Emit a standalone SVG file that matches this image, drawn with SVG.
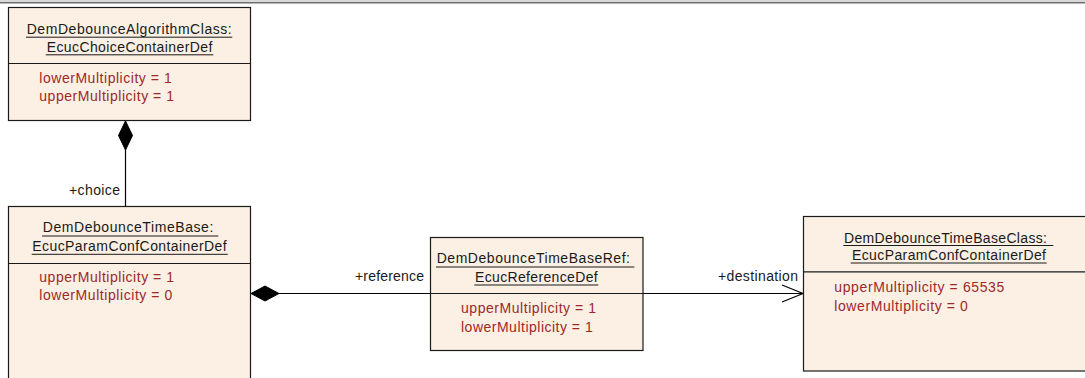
<svg xmlns="http://www.w3.org/2000/svg" width="1085" height="378" viewBox="0 0 1085 378">
<style>
.box{fill:#FBF0E3;stroke:#1a1a1a;stroke-width:1.2}
.div{stroke:#1a1a1a;stroke-width:1.2}
.ul{stroke:#1a1a1a;stroke-width:1}
.t{font-family:"Liberation Sans",Arial,sans-serif;font-size:14px;fill:#1a1a1a}
.a{font-family:"Liberation Sans",Arial,sans-serif;font-size:14px;fill:#A0282A}
.lbl{font-family:"Liberation Sans",Arial,sans-serif;font-size:14px;fill:#1a1a1a}
.conn{stroke:#000;stroke-width:1.2;fill:none}
.dia{fill:#000;stroke:#000;stroke-width:1}
</style>
<rect x="0" y="0" width="1085" height="2" fill="#d8d8d8"/>
<line x1="0" y1="2.8" x2="1085" y2="2.8" stroke="#6e6e6e" stroke-width="1.6"/>

<g id="connectors">
  <line class="conn" x1="125.5" y1="121" x2="125.5" y2="206"/>
  <polygon class="dia" points="125.5,121 132.5,135.5 125.5,150 118.5,135.5"/>
  <text class="lbl" x="120" y="195" text-anchor="end" textLength="51">+choice</text>
  <line class="conn" x1="251" y1="293.5" x2="803" y2="293.5"/>
  <polygon class="dia" points="251,293.5 265,286 279,293.5 265,301"/>
  <text class="lbl" x="355" y="281" textLength="69">+reference</text>
  <polyline class="conn" points="782,285 803,293.5 782,302"/>
  <text class="lbl" x="718" y="281" textLength="80">+destination</text>
</g>

<g id="DemDebounceAlgorithmClass">
  <rect class="box" x="8.5" y="7.5" width="242" height="113"/>
  <line class="div" x1="8.5" y1="63.5" x2="250.5" y2="63.5"/>
  <text class="t" x="26.7" y="34.3" textLength="205">DemDebounceAlgorithmClass:</text>
  <line class="ul" x1="26" y1="37.2" x2="232.3" y2="37.2"/>
  <text class="t" x="46.7" y="52.3" textLength="165.6">EcucChoiceContainerDef</text>
  <line class="ul" x1="45.7" y1="54.8" x2="213.3" y2="54.8"/>
  <text class="a" x="39.3" y="82.5" textLength="132.4">lowerMultiplicity = 1</text>
  <text class="a" x="39.3" y="100.5" textLength="134.7">upperMultiplicity = 1</text>
</g>

<g id="DemDebounceTimeBase">
  <rect class="box" x="8.5" y="206.5" width="242" height="200"/>
  <line class="div" x1="8.5" y1="263.5" x2="250.5" y2="263.5"/>
  <text class="t" x="42.7" y="232.3" textLength="170.6">DemDebounceTimeBase:</text>
  <line class="ul" x1="42" y1="236" x2="218.3" y2="236"/>
  <text class="t" x="32.3" y="250.6" textLength="194.4">EcucParamConfContainerDef</text>
  <line class="ul" x1="31.7" y1="254.3" x2="227.7" y2="254.3"/>
  <text class="a" x="39.3" y="281.5" textLength="134.7">upperMultiplicity = 1</text>
  <text class="a" x="39.3" y="300.3" textLength="133">lowerMultiplicity = 0</text>
</g>

<g id="DemDebounceTimeBaseRef">
  <rect class="box" x="430.5" y="237.5" width="212.5" height="113"/>
  <line class="div" x1="430.5" y1="293.5" x2="643" y2="293.5"/>
  <text class="t" x="436.7" y="263.3" textLength="193.3">DemDebounceTimeBaseRef:</text>
  <line class="ul" x1="436" y1="267" x2="634.3" y2="267"/>
  <text class="t" x="475" y="281.7" textLength="122.7">EcucReferenceDef</text>
  <line class="ul" x1="474.3" y1="285" x2="598.3" y2="285"/>
  <text class="a" x="461" y="312.7" textLength="135">upperMultiplicity = 1</text>
  <text class="a" x="461" y="331.7" textLength="131.7">lowerMultiplicity = 1</text>
</g>

<g id="DemDebounceTimeBaseClass">
  <rect class="box" x="803.5" y="216.5" width="290" height="154.5"/>
  <line class="div" x1="803.5" y1="271.8" x2="1093.5" y2="271.8"/>
  <text class="t" x="844" y="242.7" textLength="203">DemDebounceTimeBaseClass:</text>
  <line class="ul" x1="843.3" y1="245.5" x2="1053.3" y2="245.5"/>
  <text class="t" x="852" y="260.3" textLength="194">EcucParamConfContainerDef</text>
  <line class="ul" x1="850.7" y1="263" x2="1046.7" y2="263"/>
  <text class="a" x="834.3" y="291.7" textLength="170">upperMultiplicity = 65535</text>
  <text class="a" x="834.3" y="310.7" textLength="133.4">lowerMultiplicity = 0</text>
</g>
</svg>
